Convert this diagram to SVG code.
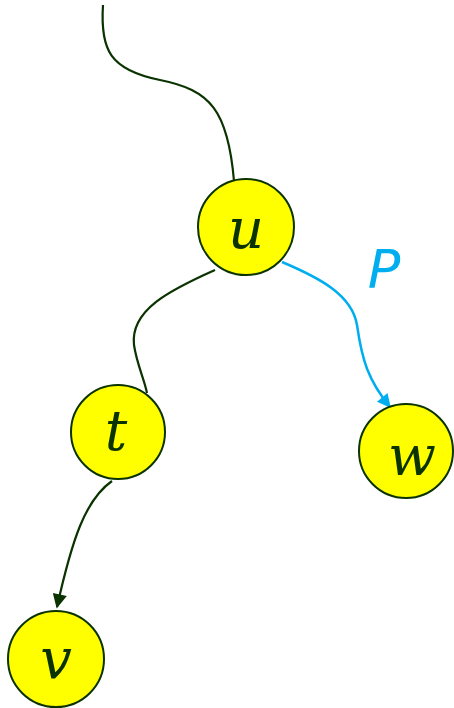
<svg xmlns="http://www.w3.org/2000/svg" width="454" height="708" viewBox="0 0 454 708">
<defs>
<style>
.node{fill:#ffff00;stroke:#0a3300;stroke-width:2}
.lbl{font-family:"DejaVu Serif",serif;font-style:italic;font-size:56px;fill:#0a3300;text-anchor:middle}
.e{fill:none;stroke:#0a3300;stroke-width:2.2}
.b{fill:none;stroke:#00aeef;stroke-width:2.5}
</style>
<marker id="ag" viewBox="0 0 10 10" refX="9" refY="5" markerWidth="7" markerHeight="6.5" orient="auto" markerUnits="strokeWidth"><path d="M0,0 L10,5 L0,10 Z" fill="#0a3300"/></marker>
<marker id="ab" viewBox="0 0 10 10" refX="9" refY="5" markerWidth="6" markerHeight="5.5" orient="auto" markerUnits="strokeWidth"><path d="M0,0 L10,5 L0,10 Z" fill="#00aeef"/></marker>
</defs>
<g id="connectors">
<path class="e" d="M103,5 C100,50 110,70 160,80 C210,90 228,110 234,181"/>
<path class="e" d="M215,270 C170,290 130,310 134,345 C137,365 144,378 147,393"/>
<path class="b" marker-end="url(#ab)" d="M282,262 C320,278 352,295 357,325 C362,360 368,380 390,407"/>
<path class="e" marker-end="url(#ag)" d="M112,481 C85,500 72,540 57,607"/>
</g>
<g id="node-u"><circle class="node" cx="246" cy="227" r="48"/><text class="lbl" x="246" y="248">u</text></g>
<g id="node-t"><circle class="node" cx="118" cy="432" r="47"/><text class="lbl" x="116" y="450">t</text></g>
<g id="node-w"><circle class="node" cx="406" cy="451" r="47"/><text class="lbl" x="412" y="475">w</text></g>
<g id="node-v"><circle class="node" cx="56" cy="659" r="48"/><text class="lbl" x="56" y="678">v</text></g>
<text id="label-P" x="384" y="288" style="font-family:'DejaVu Sans',sans-serif;font-style:italic;font-size:54px;fill:#00aeef;text-anchor:middle">P</text>
</svg>
